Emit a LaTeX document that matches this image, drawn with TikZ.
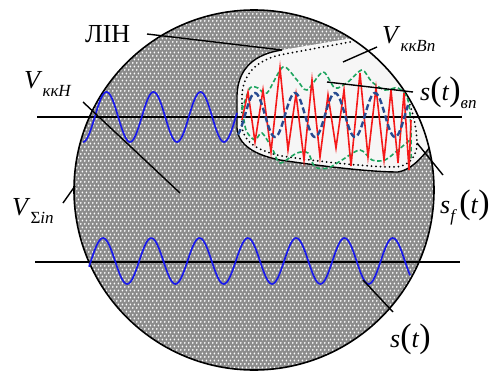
\documentclass[tikz,border=0pt]{standalone}
\usepackage{fontspec}
\setmainfont{Liberation Serif}
\usetikzlibrary{patterns}
\pgfdeclarepatternformonly{hexdots}{\pgfqpoint{0pt}{0pt}}{\pgfqpoint{4pt}{6.93pt}}{\pgfqpoint{4pt}{6.93pt}}{%
  \pgfpathcircle{\pgfqpoint{1pt}{1.1pt}}{1.05pt}%
  \pgfpathcircle{\pgfqpoint{3pt}{4.56pt}}{1.05pt}%
  \pgfusepath{fill}}
\definecolor{sigblue}{RGB}{25,25,235}
\definecolor{navyd}{RGB}{40,75,145}
\definecolor{sigred}{RGB}{245,25,25}
\definecolor{envgreen}{RGB}{30,165,95}
\definecolor{basegray}{RGB}{140,140,140}
\definecolor{regfill}{RGB}{246,246,246}
\newcommand{\mysub}[1]{\raisebox{-0.32em}{\fontsize{17}{17}\selectfont\itshape #1}}
\newcommand{\bigp}[1]{{\fontsize{34}{34}\selectfont #1}}
\tikzset{
  lab/.style={inner sep=0pt, anchor=base west, font=\fontsize{26}{30}\selectfont},
  leader/.style={line width=1.4pt},
  axisline/.style={line width=1.6pt},
  wave/.style={sigblue, line width=1.7pt},
  envelope/.style={envgreen, line width=1.6pt, dash pattern=on 4.5pt off 2.5pt},
  carrier/.style={navyd, line width=2.4pt, dash pattern=on 6pt off 3pt},
  noisy/.style={sigred, line width=1.6pt, line join=miter},
  dotline/.style={line width=2pt, line cap=round, dash pattern=on 0pt off 4.5pt},
}
\begin{document}
\begin{tikzpicture}[x=1pt,y=-1pt]
\useasboundingbox (0,0) rectangle (504,372);
% main circle with texture
\fill[basegray] (254,190) circle[radius=180pt];
\fill[pattern=hexdots, pattern color=white] (254,190) circle[radius=180pt];
% light region
\begin{scope}
  \clip (254,190) circle[radius=180pt];
  \fill[regfill] (282,50) .. controls (255,54) and (238,68) .. (237,95) -- (237,128)
     .. controls (238,145) and (255,155) .. (280,160)
     .. controls (320,166) and (370,172) .. (398,172)
     .. controls (410,170) and (420,160) .. (430,147) -- (440,100) -- (400,20) -- (353,38) -- cycle;
  \draw[line width=1.4pt] (282,50) .. controls (255,54) and (238,68) .. (237,95) -- (237,128)
     .. controls (238,145) and (255,155) .. (280,160)
     .. controls (320,166) and (370,172) .. (398,172)
     .. controls (410,170) and (420,160) .. (430,147);
\end{scope}
\draw[dotline] (350,42) -- (285,54) .. controls (260,58) and (243,72) .. (242,95) -- (242,126)
   .. controls (243,142) and (258,151) .. (282,156)
   .. controls (320,162) and (370,167) .. (396,167)
   .. controls (408,166) and (416,158) .. (417,145)
   .. controls (417,130) and (414,115) .. (408,100);
\draw[line width=1.6pt] (254,190) circle[radius=180pt];
% horizontal axes
\draw[axisline] (37,117) -- (462,117);
\draw[axisline] (35,262) -- (460,262);
% blue sine waves
\draw[wave] plot[domain=83:237, samples=120, smooth] (\x, {117+25*cos((\x-83)/47*360)});
\draw[wave] plot[domain=89:410, samples=220, smooth] (\x, {261-23*cos((\x-103)/48.3*360)});
% green envelopes
\draw[envelope] plot[smooth, tension=0.5] coordinates {(242,110) (250,88) (258,88) (267,93) (283,67) (297,80) (307,90) (323,72) (335,88) (348,82) (362,70) (372,82) (385,90) (398,88) (408,100) (411,130) (411,160)};
\draw[envelope] plot[smooth, tension=0.5] coordinates {(242,105) (246,130) (255,140) (262,133) (273,150) (280,163) (297,153) (308,153) (315,167) (328,168) (342,160) (360,150) (372,160) (385,160) (398,150) (410,140)};
% red noisy signal
\draw[noisy] (242,120) -- (248,92) -- (255,142) -- (263,90) -- (271,152) -- (280,68) -- (288,150) -- (296,94) -- (304,160) -- (312,80) -- (320,157) -- (328,95) -- (336,148) -- (344,90) -- (351,166) -- (360,73) -- (368,157) -- (376,88) -- (384,160) -- (391,90) -- (398,163) -- (404,93) -- (409,170) -- (411,120);
% navy dashed carrier
\draw[carrier] plot[domain=238:408, samples=140, smooth] (\x, {115-22*cos((\x-255)/40*360)});
% labels
\node[lab] (lin) at (85,42) {ЛІН};
\node[lab] (vkkn) at (24,88) {\textit{V}\mysub{ккН}};
\node[lab] (vsum) at (12,215) {\textit{V}\mysub{\upshape Σ\itshape іп}};
\node[lab] (vkkbn) at (382,43) {\textit{V}\mysub{ккВп}};
\node[lab] (stvp) at (420,100) {\textit{s}\bigp{(}\textit{t}\bigp{)}\mysub{вп}};
\node[lab] (sf) at (440,213) {\textit{s}\mysub{f}\,\bigp{(}\textit{t}\bigp{)}};
\node[lab] (st) at (390,347) {\textit{s}\bigp{(}\textit{t}\bigp{)}};
% leader endpoints
\coordinate (lin-a) at (147,34);  \coordinate (lin-b) at (282,50);
\coordinate (vkkn-a) at (83,102); \coordinate (vkkn-b) at (180,193);
\coordinate (vsum-a) at (63,203); \coordinate (vsum-b) at (75,186);
\coordinate (vkkbn-a) at (377,47); \coordinate (vkkbn-b) at (343,62);
\coordinate (stvp-a) at (413,92); \coordinate (stvp-b) at (327,82);
\coordinate (sf-a) at (417,143); \coordinate (sf-b) at (443,175);
\coordinate (st-a) at (363,280); \coordinate (st-b) at (393,312);
\draw[leader] (lin-a) -- (lin-b);
\draw[leader] (vkkn-a) -- (vkkn-b);
\draw[leader] (vsum-a) -- (vsum-b);
\draw[leader] (vkkbn-a) -- (vkkbn-b);
\draw[leader] (stvp-a) -- (stvp-b);
\draw[leader] (sf-a) -- (sf-b);
\draw[leader] (st-a) -- (st-b);
\end{tikzpicture}
\end{document}
